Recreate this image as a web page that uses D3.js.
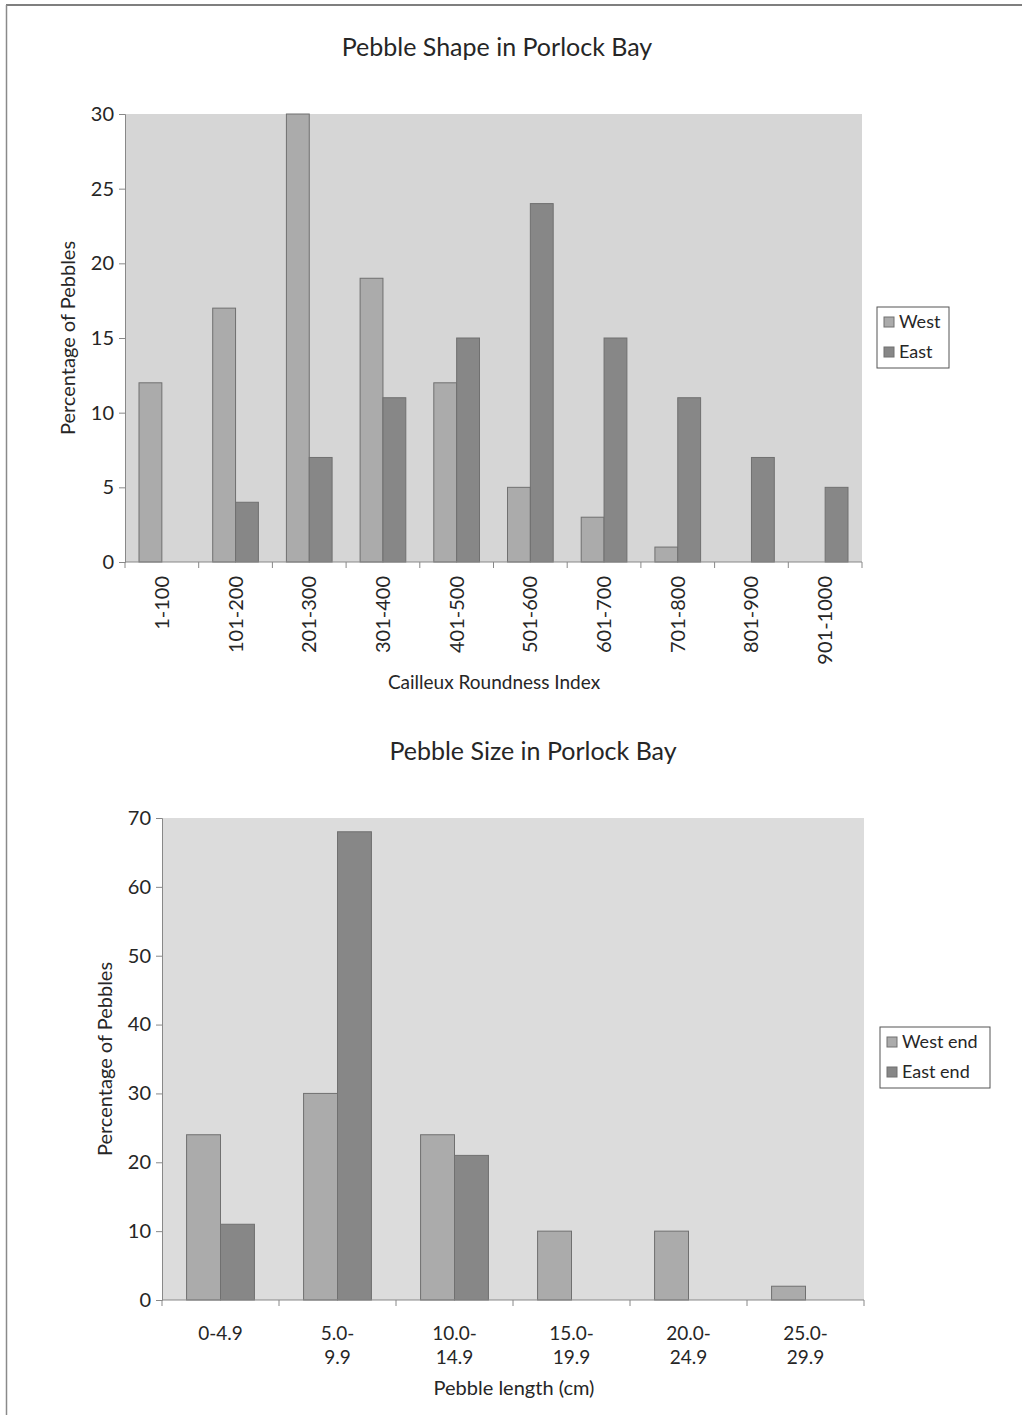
<!DOCTYPE html>
<html>
<head>
<meta charset="utf-8">
<script src="https://cdn.jsdelivr.net/npm/d3@7"></script>
<style>
  html, body { margin: 0; padding: 0; background: #ffffff; }
  svg { display: block; }
  text { font-family: Lato, "Open Sans", "DejaVu Sans", sans-serif; fill: #262626; }
</style>
</head>
<body>
<div id="chart"></div>
<script>
// ---------- DATA ----------
const shapeCategories = ["1-100","101-200","201-300","301-400","401-500","501-600","601-700","701-800","801-900","901-1000"];
const shapeSeries = ["West","East"];
const shapeWest = [12,17,30,19,12,5,3,1,0,0];
const shapeEast = [0,4,7,11,15,24,15,11,7,5];
const shapeTicks = [0,5,10,15,20,25,30];

const sizeCategories = [["0-4.9"],["5.0-","9.9"],["10.0-","14.9"],["15.0-","19.9"],["20.0-","24.9"],["25.0-","29.9"]];
const sizeSeries = ["West end","East end"];
const sizeWest = [24,30,24,10,10,2];
const sizeEast = [11,68,21,0,0,0];
const sizeTicks = [0,10,20,30,40,50,60,70];

// ---------- STYLE ----------
const seriesFill = ["#ababab", "#878787"];
const barStroke = "#707070";

const W = 1022, H = 1415;
const svg = d3.select("#chart").append("svg").attr("width", W).attr("height", H);

// page frame
svg.append("line").attr("x1", 6).attr("x2", W).attr("y1", 5).attr("y2", 5)
  .attr("stroke", "#555").attr("stroke-width", 1.5);
svg.append("line").attr("x1", 6.5).attr("x2", 6.5).attr("y1", 5).attr("y2", H)
  .attr("stroke", "#8a8a8a").attr("stroke-width", 1.5);

function drawChart(cfg) {
  const g = svg.append("g");
  const catKeys = cfg.categories.map((c, i) => i);
  const x0 = d3.scaleBand().domain(catKeys).range([cfg.left, cfg.right]).padding(0);
  const bw = x0.bandwidth();
  const x1 = d3.scaleBand().domain(cfg.series).range([bw * cfg.groupStart, bw * (1 - cfg.groupStart)]).padding(0);
  const y = d3.scaleLinear().domain([0, cfg.ymax]).range([cfg.bottom, cfg.top]);

  // plot area
  g.append("rect").attr("x", cfg.left).attr("y", cfg.top)
    .attr("width", cfg.right - cfg.left).attr("height", cfg.bottom - cfg.top)
    .attr("fill", cfg.plotFill);

  // title
  g.append("text").attr("x", cfg.titleX).attr("y", cfg.titleY)
    .attr("text-anchor", "middle").attr("font-size", 25).text(cfg.title);

  // bars
  const data = [];
  cfg.categories.forEach((c, i) => {
    cfg.series.forEach((s, j) => data.push({ i, s, j, v: cfg.values[j][i] }));
  });
  g.selectAll("rect.bar").data(data.filter(d => d.v > 0)).enter().append("rect")
    .attr("class", "bar")
    .attr("x", d => x0(d.i) + x1(d.s))
    .attr("width", x1.bandwidth())
    .attr("y", d => y(d.v))
    .attr("height", d => y(0) - y(d.v))
    .attr("fill", d => seriesFill[d.j])
    .attr("stroke", barStroke).attr("stroke-width", 1);

  // y axis
  const ya = g.append("g").attr("transform", `translate(${cfg.left},0)`)
    .call(d3.axisLeft(y).tickValues(cfg.yTicks).tickSize(6).tickPadding(5));
  ya.select(".domain").attr("stroke", "#888");
  ya.selectAll(".tick line").attr("stroke", "#888");
  ya.selectAll(".tick text").attr("font-size", 20).attr("fill", "#262626")
    .style("font-family", "Lato, 'Open Sans', sans-serif");

  // x axis line
  g.append("line").attr("x1", cfg.left).attr("x2", cfg.right)
    .attr("y1", cfg.bottom).attr("y2", cfg.bottom).attr("stroke", "#888");
  // boundary ticks
  const bounds = catKeys.map(i => x0(i)).concat([cfg.right]);
  g.selectAll("line.xt").data(bounds).enter().append("line")
    .attr("x1", d => d).attr("x2", d => d)
    .attr("y1", cfg.bottom).attr("y2", cfg.bottom + 6)
    .attr("stroke", "#888");

  // x labels
  if (cfg.rotateLabels) {
    cfg.categories.forEach((c, i) => {
      const cx = x0(i) + bw / 2;
      g.append("text")
        .attr("transform", `translate(${cx + 7},${cfg.bottom + 14}) rotate(-90)`)
        .attr("text-anchor", "end").attr("font-size", 20).text(c);
    });
  } else {
    cfg.categories.forEach((c, i) => {
      const cx = x0(i) + bw / 2;
      const t = g.append("text").attr("x", cx).attr("y", cfg.bottom + 40)
        .attr("text-anchor", "middle").attr("font-size", 19);
      c.forEach((line, k) => {
        t.append("tspan").attr("x", cx).attr("dy", k === 0 ? 0 : 24).text(line);
      });
    });
  }

  // axis titles
  g.append("text").attr("x", cfg.xTitleX).attr("y", cfg.xTitleY)
    .attr("text-anchor", "middle").attr("font-size", cfg.xTitleSize).text(cfg.xTitle);
  g.append("text")
    .attr("transform", `translate(${cfg.yTitleX},${cfg.yTitleY}) rotate(-90)`)
    .attr("text-anchor", "middle").attr("font-size", 20).text(cfg.yTitle);

  // legend
  const lg = g.append("g");
  lg.append("rect").attr("x", cfg.legX).attr("y", cfg.legY)
    .attr("width", cfg.legW).attr("height", 61)
    .attr("fill", "#ffffff").attr("stroke", "#555").attr("stroke-width", 1);
  cfg.series.forEach((s, j) => {
    const yy = cfg.legY + 15 + j * 30;
    lg.append("rect").attr("x", cfg.legX + 7).attr("y", yy - 5)
      .attr("width", 10).attr("height", 10)
      .attr("fill", seriesFill[j]).attr("stroke", barStroke);
    lg.append("text").attr("x", cfg.legX + 22).attr("y", yy + 6)
      .attr("font-size", 18).text(s);
  });
}

drawChart({
  title: "Pebble Shape in Porlock Bay", titleX: 497, titleY: 56,
  categories: shapeCategories, series: shapeSeries, values: [shapeWest, shapeEast],
  yTicks: shapeTicks, ymax: 30,
  left: 125, right: 862, top: 114, bottom: 562, groupStart: 0.19,
  plotFill: "#d6d6d6", rotateLabels: true,
  xTitle: "Cailleux Roundness Index", xTitleX: 494, xTitleY: 689, xTitleSize: 19,
  yTitle: "Percentage of Pebbles", yTitleX: 75, yTitleY: 338,
  legX: 877, legY: 307, legW: 72
});

drawChart({
  title: "Pebble Size in Porlock Bay", titleX: 533, titleY: 760,
  categories: sizeCategories, series: sizeSeries, values: [sizeWest, sizeEast],
  yTicks: sizeTicks, ymax: 70,
  left: 162, right: 864, top: 818, bottom: 1300, groupStart: 0.21,
  plotFill: "#dcdcdc", rotateLabels: false,
  xTitle: "Pebble length (cm)", xTitleX: 514, xTitleY: 1395, xTitleSize: 20,
  yTitle: "Percentage of Pebbles", yTitleX: 112, yTitleY: 1059,
  legX: 880, legY: 1027, legW: 110
});
</script>
</body>
</html>
